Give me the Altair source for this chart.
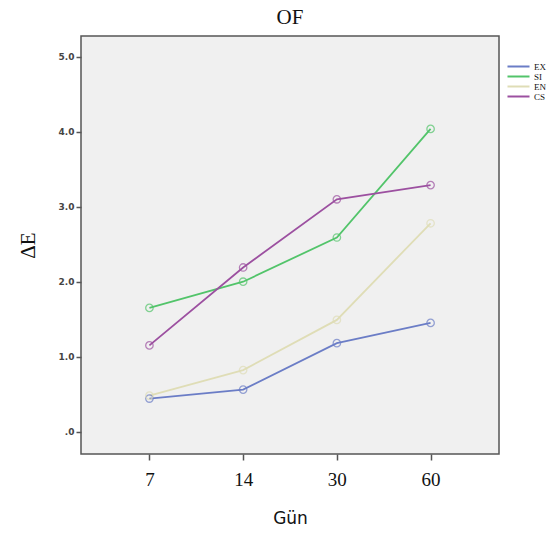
import altair as alt
import pandas as pd

days = ["7", "14", "30", "60"]
groups = ["EX", "SI", "EN", "CS"]
ex_vals = [0.44, 0.56, 1.18, 1.45]
si_vals = [1.65, 2.00, 2.59, 4.04]
en_vals = [0.48, 0.82, 1.49, 2.78]
cs_vals = [1.15, 2.19, 3.10, 3.29]
colors = ["#6b7dc6", "#52c46a", "#dfddb6", "#9c50a0"]

rows = []
for g, vals in zip(groups, [ex_vals, si_vals, en_vals, cs_vals]):
    for d, v in zip(days, vals):
        rows.append({"Gün": d, "grp": g, "dE": v})
df = pd.DataFrame(rows)

x = alt.X("Gün:O", sort=days, scale=alt.Scale(type="point", padding=0.73),
          axis=alt.Axis(title="Gün", labelAngle=0, labelFont="Liberation Serif",
                        labelFontSize=19, labelColor="#111", labelPadding=10,
                        tickSize=6, tickColor="#555", tickWidth=1.5, domain=False,
                        titleFont="DejaVu Sans", titleFontSize=17, titleFontWeight="normal",
                        titleColor="#111", titlePadding=21))
y = alt.Y("dE:Q", scale=alt.Scale(domain=[-0.3, 5.28], nice=False, zero=False),
          axis=alt.Axis(title="ΔE", values=[0, 1, 2, 3, 4, 5],
                        labelExpr="datum.value == 0 ? '.0' : format(datum.value, '.1f')",
                        labelFont="DejaVu Sans", labelFontSize=9, labelFontWeight="bold",
                        labelColor="#444", tickSize=5, tickColor="#555", tickWidth=1.5,
                        labelPadding=2, grid=False, domain=False,
                        titleFont="Liberation Serif", titleFontSize=21, titleFontWeight="normal",
                        titleColor="#111", titlePadding=20))
color = alt.Color("grp:N", sort=groups,
                  scale=alt.Scale(domain=groups, range=colors),
                  legend=alt.Legend(title=None, orient="none", legendX=433, legendY=26,
                                    symbolType="M-3.67,0H3.67", symbolStrokeWidth=2,
                                    symbolSize=36,
                                    labelFont="Liberation Serif", labelFontSize=9,
                                    labelColor="#111", rowPadding=-3, labelOffset=11))

base = alt.Chart(df)
lines = base.mark_line(strokeWidth=1.8).encode(x=x, y=y, color=color)
pts = base.mark_point(shape="circle", filled=False, size=55, strokeWidth=1.3).encode(
    x=x, y=y, color=alt.Color("grp:N", sort=groups, scale=alt.Scale(domain=groups, range=colors), legend=None))

chart = (lines + pts).properties(
    width=418, height=418,
    title=alt.TitleParams("OF", font="Liberation Serif", fontSize=21, fontWeight="normal",
                          color="#111", offset=8),
    autosize=alt.AutoSizeParams(type="none"),
    padding={"left": 81, "top": 36, "right": 56, "bottom": 82},
    background="white",
).configure_view(fill="#f0f0f0", stroke="#555", strokeWidth=1.5)

chart.save("out.html", embed_options={"renderer": "svg", "actions": False})
